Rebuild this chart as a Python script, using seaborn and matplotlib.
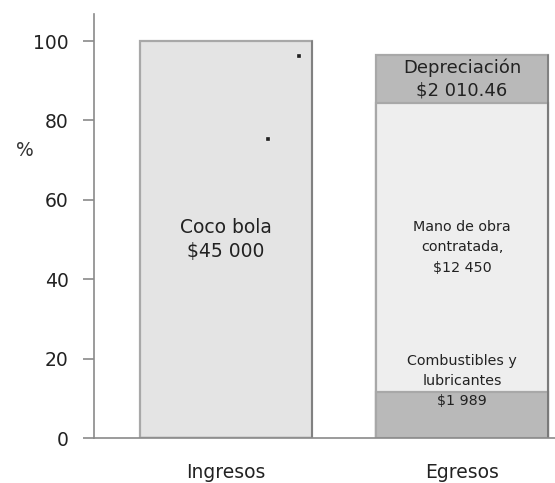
import matplotlib
matplotlib.use("Agg")
import matplotlib.pyplot as plt
import seaborn as sns
import numpy as np
import pandas as pd

# ---- data ----
categories = ["Ingresos", "Egresos"]
ingresos_pct = [100.0]
egresos_labels = ["Combustibles y\nlubricantes\n$1 989", "Mano de obra\ncontratada,\n$12 450", "Depreciación\n$2 010.46"]
egresos_pct = [11.6, 72.8, 12.1]
ingresos_label = "Coco bola\n$45 000"
dot_x = [0.31, 0.18]
dot_y = [96.2, 75.3]
yticks = [0, 20, 40, 60, 80, 100]

sns.set_theme(style="white")
plt.rcParams['font.family'] = ['DejaVu Sans']

fig, ax = plt.subplots(figsize=(5.55, 4.83), dpi=100)
fig.subplots_adjust(left=0.169, right=1.0, bottom=0.093, top=0.971)

cum = np.cumsum(egresos_pct)
bar_w = 0.73
layers = [
    (pd.DataFrame({"cat": categories, "val": [ingresos_pct[0], cum[2]]}), ["#e4e4e4", "#b9b9b9"]),
    (pd.DataFrame({"cat": categories, "val": [0, cum[1]]}), ["#e4e4e4", "#eeeeee"]),
    (pd.DataFrame({"cat": categories, "val": [0, cum[0]]}), ["#e4e4e4", "#b9b9b9"]),
]
for df, pal in layers:
    sns.barplot(data=df, x="cat", y="val", hue="cat", palette=pal, order=categories,
                hue_order=categories, width=bar_w, legend=False, ax=ax,
                edgecolor="#a8a8a8", linewidth=1.6, saturation=1)

for p in ax.patches:
    if p.get_height() > 0:
        x0 = p.get_x(); w = p.get_width(); y0 = p.get_y(); h = p.get_height()
        ax.plot([x0 + w, x0 + w], [y0, y0 + h], color="#7a7a7a", lw=1.2, zorder=p.get_zorder() + 0.1)

sns.scatterplot(x=dot_x, y=dot_y, color="#222222", s=6, marker="s", ax=ax, zorder=5)

ax.text(0, 50, ingresos_label, ha="center", va="center", fontsize=13.5, color="#222222", linespacing=1.3)
bottoms = np.concatenate([[0], cum[:-1]])
centers = bottoms + np.array(egresos_pct) / 2
offs = [8.6, 0, 0]
sizes = [10.3, 10.3, 13]
spacings = [1.55, 1.55, 1.35]
for lab, c, o, s, ls in zip(egresos_labels, centers, offs, sizes, spacings):
    ax.text(1, c + o, lab, ha="center", va="center", fontsize=s, color="#222222", linespacing=ls)

ax.set_xlim(-0.559, 1.394)
ax.set_ylim(0, 106.8)
ax.set_yticks(yticks)
ax.set_yticklabels([str(t) for t in yticks], fontsize=13.5, color="#222222")
ax.set_xticks([0, 1])
ax.set_xticklabels(categories, fontsize=13.5, color="#222222")
ax.set_xlabel("")
ax.set_ylabel("%", rotation=0, fontsize=13.5, color="#333333")
ax.yaxis.set_label_coords(-0.15, 0.655)

for s in ["top", "right"]:
    ax.spines[s].set_visible(False)
for s in ["left", "bottom"]:
    ax.spines[s].set_color("#8a8a8a")
    ax.spines[s].set_linewidth(1.2)
ax.tick_params(axis="y", left=True, length=8, width=1.2, color="#8a8a8a", pad=10)
ax.tick_params(axis="x", bottom=False, pad=12)

fig.savefig("out.png", dpi=100)
